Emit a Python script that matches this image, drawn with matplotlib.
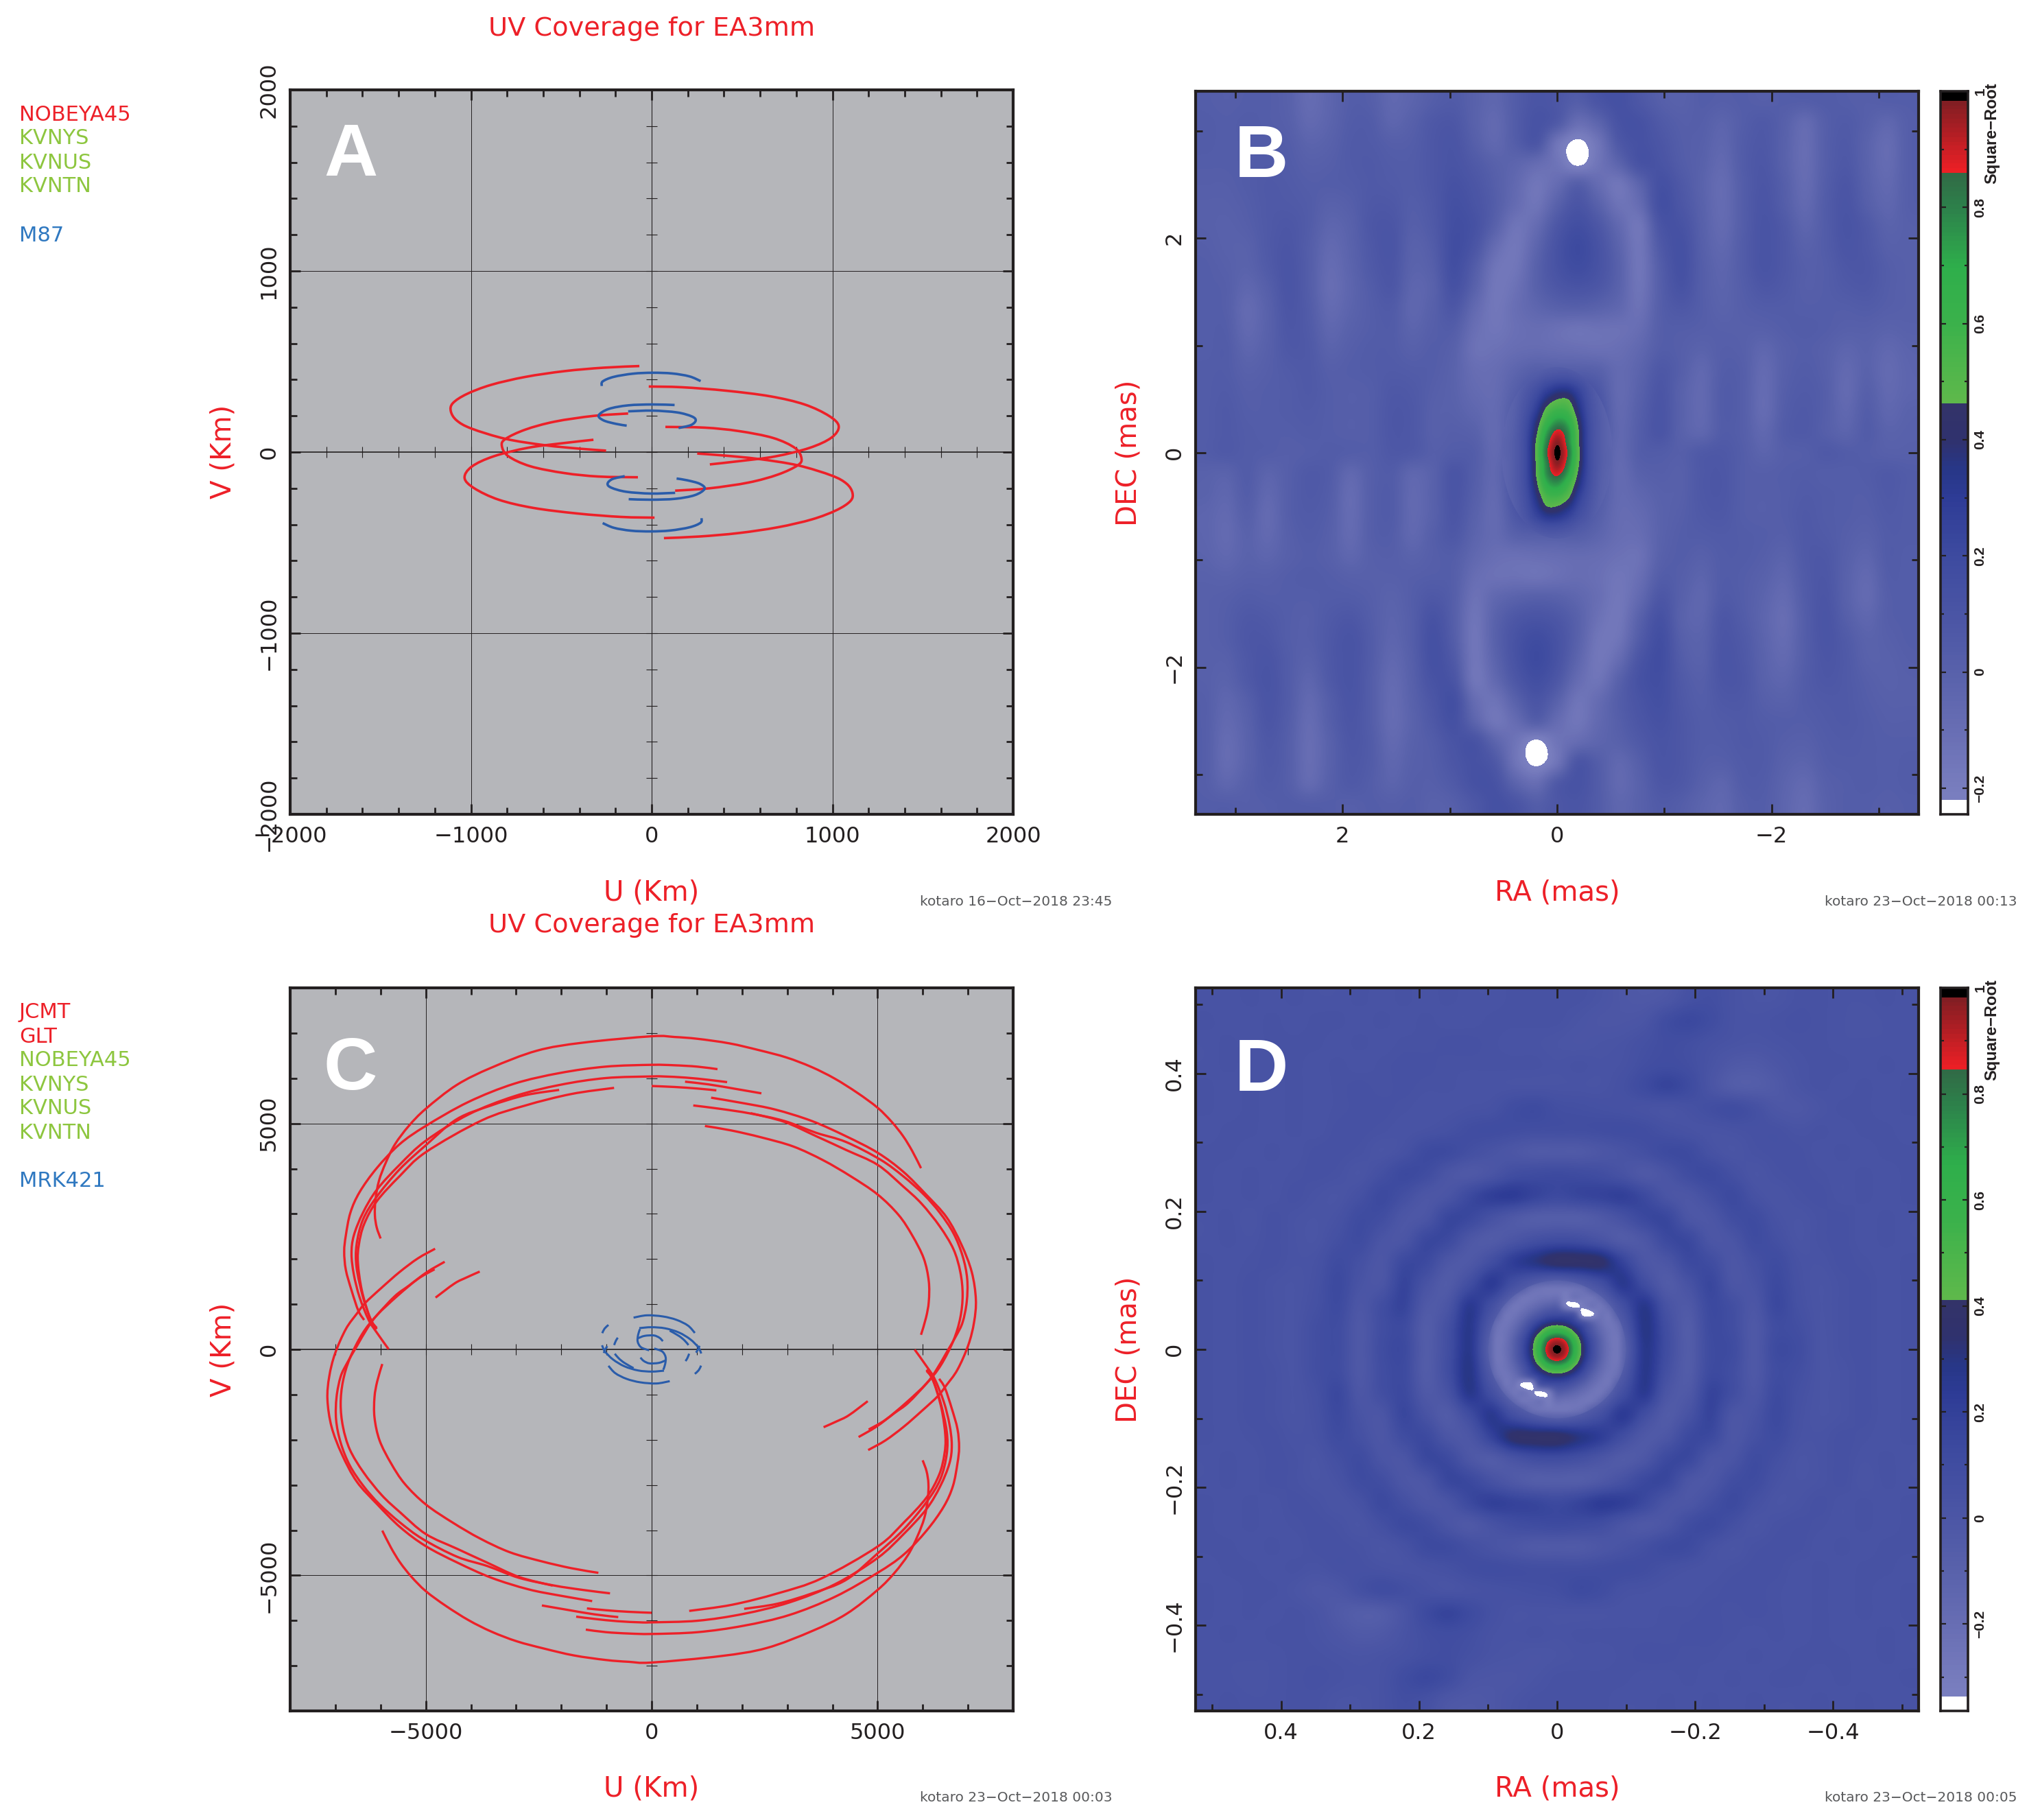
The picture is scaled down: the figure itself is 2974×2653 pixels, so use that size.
import numpy as np
import matplotlib
matplotlib.use("Agg")
import matplotlib.pyplot as plt
from matplotlib.path import Path
from matplotlib.patches import PathPatch, Ellipse
from matplotlib.colors import LinearSegmentedColormap

W, H = 2974, 2653
RED, BLUE, GRAY, LIME, TXTBLUE = "#ED2028", "#2A5CAA", "#B5B6BA", "#8DC63F", "#2F78C0"

# ---- panel A tracks (km), conjugate tracks are the negated values
A_RED = [
 [(-68,475),(-266,466),(-482,447),(-699,415),(-889,371),(-1024,320),(-1100,270),(-1111,225),(-1079,175),(-997,130),(-808,73),(-591,38),(-401,19),(-252,8)],
 [(-16,362),(168,358),(412,339),(656,308),(846,263),(981,200),(1035,143),(995,80),(873,23),(683,-24),(493,-49),(322,-68)],
 [(-130,213),(-320,200),(-537,168),(-699,124),(-808,73),(-829,35),(-794,-22),(-672,-78),(-482,-116),(-293,-135),(-76,-139)],
]
A_BLUE = [
 [(-276,365),(-271,390),(-211,415),(-103,433),(5,438),(114,434),(209,418),(271,392)],
 [(127,260),(5,263),(-130,258),(-238,238),(-293,203),(-266,175),(-198,156),(-138,146)],
 [(-130,225),(5,229),(141,219),(222,197),(244,175),(217,149),(149,133)],
]
# ---- panel C tracks (km)
C_RED = [
 [(5961,4010),(5768,4388),(5566,4717),(5313,5035),(5000,5348),(4554,5676),(4048,5994),(3542,6247),(2985,6459),(2378,6621),(1720,6772),(1012,6873),(506,6913),(0,6929),(-1525,6787),(-2538,6610),(-3551,6232),(-4311,5853),(-5000,5323),(-5375,4944),(-5679,4540),(-5882,4136),(-6034,3732),(-6110,3328),(-6125,2974),(-6084,2697),(-5998,2454)],
 [(1457,6201),(1012,6257),(506,6287),(0,6297),(-1018,6257),(-2031,6116),(-3045,5878),(-4058,5474),(-5000,4944),(-5578,4540),(-6084,4010),(-6464,3479),(-6667,3025),(-6768,2520),(-6804,2166),(-6768,1762),(-6642,1308),(-6490,853),(-6363,651)],
 [(1670,5914),(1265,5964),(759,6014),(253,6040),(0,6040),(-1018,6004),(-2031,5853),(-3045,5600),(-4058,5196),(-5000,4616),(-5578,4085),(-6084,3530),(-6388,3025),(-6591,2520),(-6642,2116),(-6591,1661),(-6464,1156),(-6262,651),(-6084,374),(-5821,5)],
 [(-2047,5742),(-2791,5626),(-3551,5398),(-4311,5095),(-5000,4515),(-5578,3984),(-6084,3378),(-6388,2873),(-6530,2318),(-6530,1813),(-6388,1156),(-6211,651),(-6084,475)],
 [(-831,5787),(-1778,5651),(-2791,5398),(-3754,5070),(-5000,4363),(-5578,3833),(-6084,3277),(-6363,2772),(-6479,2318),(-6500,1914),(-6414,1308),(-6236,702),(-6084,449)],
 [(1316,5570),(2024,5449),(2732,5308),(3542,5055),(4301,4717),(5000,4353),(5566,3934),(6072,3429),(6527,2924),(6856,2318),(7084,1712),(7175,1106),(7135,601),(7008,96),(6768,-449),(6515,-803),(6338,-1030),(5983,-1358),(5578,-1712),(5172,-2015),(4792,-2227)],
 [(921,5398),(1518,5323),(2176,5222),(2935,5055),(3643,4792),(4301,4590),(5060,4200),(5566,3833),(6021,3429),(6376,3025),(6679,2570),(6882,2065),(6983,1560),(6973,1055),(6882,601),(6743,308),(6540,-45),(6287,-475),(6084,-752),(5679,-1182),(5375,-1409),(4970,-1712),(4580,-1939)],
 [(2191,5227),(2935,5035),(3643,4717),(4301,4414),(5000,4085),(5566,3606),(5971,3227),(6376,2722),(6679,2217),(6831,1712),(6882,1207),(6831,702),(6679,197),(6400,-350),(6084,-752),(5628,-1182),(5172,-1560),(4803,-1773)],
 [(1179,4944),(1771,4843),(2429,4691),(3137,4489),(3795,4186),(4402,3833),(5000,3429),(5465,2974),(5768,2520),(6021,2015),(6133,1510),(6133,1055),(6072,702),(5961,323)],
 [(739,5924),(1265,5863),(1872,5762),(2429,5666)],
 [(0,5828),(506,5807),(1012,5772),(1432,5732)],
 [(3805,-1722),(4100,-1590),(4362,-1459),(4782,-1146)],
]
C_BLUE = [
 [(-400,703),(-106,754),(248,729),(552,653),(805,526),(956,364)],
 [(-273,471),(-5,491),(299,466),(602,374),(855,223),(1032,46),(1098,-91)],
 [(-258,450),(-299,324),(-309,172),(-233,46),(-56,-20)],
 [(-299,248),(-157,299),(46,309),(172,258),(248,182)],
 [(400,415),(602,299),(729,197),(815,96)],
 [(-1093,359),(-1042,460),(-956,541)],
 [(-830,96),(-789,197),(-749,258)],
 [(982,-71),(1032,10),(1058,81)],
]
# ---- panel B map, upper half, percent of peak (lower half is the point reflection)
B_MAP = [
 [3,2,3,3,0,-8,-3,3,2,-5,-2,3,5,0,-4,4,10,8,3,10,14,8,2,0,3,2,3,2,3,3,4,3,2,3,3],
 [4,3,4,3,1,-6,-2,4,4,-3,1,7,8,0,-6,4,12,6,-9,-2,12,13,6,2,2,-2,3,6,1,-7,2,5,1,-4,2],
 [4,3,4,4,3,-2,0,5,5,2,3,8,10,2,-5,3,9,-14,-24,-14,7,13,9,3,1,-4,4,7,0,-9,2,6,-1,-8,2],
 [3,3,4,5,4,1,2,5,6,4,4,8,11,6,0,-3,-8,-14,-24,-14,-2,12,11,4,0,-6,4,8,0,-9,2,7,-1,-8,2],
 [2,2,4,6,5,3,3,4,6,5,4,8,13,9,2,-6,-15,-8,2,-8,-15,-2,14,7,-1,-8,3,9,2,-8,3,9,0,-6,2],
 [1,1,3,6,6,4,0,2,7,7,3,7,15,11,3,-8,-14,0,10,0,-13,-8,15,9,0,-8,3,10,3,-6,4,10,2,-4,2],
 [1,0,2,6,8,4,-3,0,8,9,2,6,16,13,0,-14,-8,8,16,8,-6,-15,10,12,1,-7,3,11,6,-3,4,11,6,-1,1],
 [2,0,0,6,9,3,-6,-1,7,10,0,4,17,10,-8,-16,-3,12,20,12,-2,-15,6,14,2,-5,4,11,7,0,4,10,7,1,1],
 [3,1,-1,5,10,3,-8,-2,6,9,-1,2,16,4,-14,-15,0,12,18,12,0,-15,3,14,3,-3,4,11,7,2,3,8,8,3,1],
 [3,2,-4,2,10,3,-9,-3,4,8,-3,0,13,0,-16,-12,0,8,11,8,-1,-14,2,12,3,-2,3,8,6,2,3,6,7,3,1],
 [3,2,-7,0,9,4,-7,-2,3,5,-4,1,8,-6,-16,-10,-4,0,1,-1,-5,-12,2,7,3,-1,2,4,4,3,3,3,4,2,1],
 [3,3,-6,0,8,5,-4,0,3,4,-2,2,3,-10,-15,-11,-9,-11,-13,-12,-12,-9,2,3,2,1,1,1,3,4,3,1,1,-1,0],
 [3,4,-3,1,7,6,-1,2,4,4,1,3,0,-12,-12,-9,-8,-9,-10,-11,-10,-5,3,2,-1,2,1,-4,1,3,1,-3,-1,-5,-2],
 [4,4,0,2,5,6,2,3,4,5,4,3,-1,-9,-9,-3,2,2,2,0,-7,-2,7,2,-5,3,2,-7,1,4,1,-6,-1,-7,-3],
 [4,5,2,3,4,6,3,2,3,7,6,2,-1,-7,-8,2,13,17,18,8,-7,0,9,0,-6,4,2,-8,2,5,2,-7,1,-6,-3],
 [4,6,3,3,4,5,3,2,3,8,7,1,0,-4,-7,6,20,30,30,13,-6,2,10,0,-6,4,2,-8,3,6,2,-5,3,-4,-1],
 [4,6,4,3,3,4,3,2,3,8,7,1,2,0,-7,8,24,40,40,14,-5,3,10,0,-4,4,2,-5,4,6,2,-2,4,-1,0],
]
B_MID = [4,6,4,3,2,3,4,3,3,7,6,2,4,3,-6,8,25,50,25,8,-6,3,4,2,6,7,3,-2,2,3,6,4,3,1,1]
B_CORE = [
 [-6,-4,-2,0,2,3,3,1,-2,-4,-6],
 [-6,-3,2,6,11,14,14,10,4,-2,-6],
 [-6,-2,6,14,24,31,31,22,10,1,-5],
 [-5,0,9,21,37,46,46,30,13,2,-4],
 [-4,1,12,28,50,59,56,36,15,3,-3],
 [-3,2,15,36,60,74,68,42,17,4,-3],
 [-3,3,17,42,72,88,77,46,18,4,-3],
 [-2,4,18,47,80,97,80,47,18,4,-3],
]
B_CORE_MID = [-2,4,18,48,84,100,84,48,18,4,-2]
# ---- panel D map
D_MAP = [
 [3,3,4,3,4,3,3,4,3,4,3,4,3,3,4,4,4,4,2,-1,-2,0,6,8,4,2,2,4,4,3,3,4,3],
 [4,3,3,4,3,4,4,3,4,3,4,3,3,4,4,4,4,2,0,0,2,10,14,10,4,3,4,5,4,3,2,3,3],
 [3,4,3,4,4,4,3,4,3,4,4,5,5,4,3,3,2,1,2,3,6,9,8,5,3,2,3,4,4,3,3,3,3],
 [3,4,3,3,4,3,4,3,4,5,5,4,4,4,4,4,3,4,3,4,8,10,8,3,-2,-3,0,3,4,4,3,4,3],
 [4,3,4,3,4,3,4,5,4,5,4,4,3,3,3,3,3,3,3,6,12,17,12,2,-5,-6,-3,2,4,3,4,3,4],
 [4,3,4,3,4,3,4,5,5,4,3,3,4,5,10,12,8,7,6,5,4,3,5,8,10,6,0,-1,2,4,4,3,4],
 [3,4,4,3,4,3,5,5,4,3,4,6,9,10,9,8,8,8,9,10,9,6,4,3,4,5,5,3,4,3,4,4,3],
 [4,4,3,4,3,5,5,4,2,5,12,12,7,3,0,-3,-3,-3,0,3,7,12,12,5,2,4,5,5,3,4,3,4,4],
 [4,3,4,3,4,5,4,2,7,13,10,1,-2,2,9,11,12,11,9,4,-2,2,10,13,7,2,4,5,4,3,4,3,4],
 [4,3,4,3,5,3,2,6,13,7,0,2,13,21,23,17,13,16,18,20,13,2,0,7,13,5,2,4,5,3,4,3,4],
 [3,4,2,5,3,2,4,11,9,0,1,15,14,5,-2,-6,-6,-6,-2,5,14,15,1,0,9,11,4,2,4,5,3,4,3],
 [3,4,3,5,3,2,7,11,2,1,14,13,0,-4,1,7,10,9,3,-4,0,13,14,1,2,11,7,2,4,5,3,4,3],
 [4,3,4,5,3,4,11,6,0,13,13,0,-2,9,22,30,38,38,36,18,0,1,13,10,0,6,11,4,3,5,4,3,4],
 [4,3,5,3,2,5,13,3,1,17,4,-4,9,24,8,-4,-10,-4,8,26,10,-4,4,15,1,3,13,5,2,4,5,3,4],
 [4,3,5,3,2,6,12,0,9,17,-2,1,25,8,-14,-14,-8,-14,-14,8,27,4,-2,13,8,0,14,6,2,4,5,3,4],
 [4,3,5,3,2,8,10,-2,9,12,-5,7,27,-4,-14,20,50,20,-14,-4,29,9,-5,12,9,-2,10,8,2,4,5,3,4],
]
D_MID = [4,3,5,3,2,8,10,-2,10,13,-5,8,27,-10,-8,40,60,40,-8,-10,27,10,-5,11,11,-2,12,10,2,4,5,3,4]
D_CORE = [
 [24,21,17,11,4,-2,-7,-9,-10,-9,-7,-2,4,11,17,21,24],
 [21,16,8,0,-9,-20,-24,-26,-26,-26,-24,-20,-9,0,8,16,21],
 [17,8,-2,-16,-25,-26,-24,-23,-22,-30,-24,-26,-25,-16,-2,8,17],
 [11,0,-16,-26,-25,-20,-14,-9,-8,-30,-37,-31,-25,-26,-16,0,11],
 [4,-9,-25,-25,-18,-8,2,10,12,10,2,-37,-36,-25,-25,-9,4],
 [-2,-20,-26,-20,-8,8,22,32,36,32,22,8,-8,-20,-26,-20,-2],
 [-7,-24,-24,-14,2,22,42,60,66,60,42,22,2,-14,-24,-24,-7],
 [-9,-26,-23,-9,10,32,60,84,92,84,60,32,10,-9,-23,-26,-9],
]
D_CORE_MID = [-10,-26,-22,-8,12,36,66,92,100,92,66,36,12,-8,-22,-26,-10]

B_EXT, D_EXT = 3.37, 0.524
B_VMIN, D_VMIN = -0.245, -0.364
B_LEGEND = ["NOBEYA45", "KVNYS", "KVNUS", "KVNTN", "M87"]
D_LEGEND = ["JCMT", "GLT", "NOBEYA45", "KVNYS", "KVNUS", "KVNTN", "MRK421"]

def rgb(*c):
    return tuple(v / 255 for v in c)

cmap = LinearSegmentedColormap.from_list("vlbi", [
    (0.0, "white"), (0.015, "white"), (0.0151, rgb(122,127,192)), (0.036, rgb(120,125,190)),
    (0.116, rgb(104,110,180)), (0.197, rgb(88,97,171)), (0.277, rgb(74,85,165)),
    (0.357, rgb(62,75,160)), (0.438, rgb(46,60,150)), (0.478, rgb(40,55,135)),
    (0.518, rgb(48,50,110)), (0.5709, rgb(52,52,105)), (0.571, rgb(95,185,75)),
    (0.679, rgb(60,178,75)), (0.759, rgb(47,175,75)), (0.84, rgb(45,130,75)),
    (0.8929, rgb(50,105,70)), (0.893, rgb(237,32,38)), (0.992, rgb(125,30,35)),
    (0.9921, "black"), (1.0, "black")], N=160)
cmap.set_under("white")
cmap.set_over("black")

fig = plt.figure(figsize=(W / 100, H / 100), dpi=100, facecolor="white")
plt.rcParams["font.family"] = ["DejaVu Sans"]
NARROW = ["Liberation Sans Narrow", "Liberation Sans"]

def make_ax(l, t, r, b):
    return fig.add_axes([l / W, 1 - b / H, (r - l) / W, (b - t) / H])

def T(x, y, s, **kw):
    kw.setdefault("va", "center")
    return fig.text(x / W, 1 - y / H, s, **kw)

def smooth(ax, pts, color, lw):
    """Cubic path through every read point."""
    p = np.asarray(pts, float)
    v, c = [p[0]], [Path.MOVETO]
    for i in range(len(p) - 1):
        a = p[max(i - 1, 0)]
        b = p[min(i + 2, len(p) - 1)]
        v += [p[i] + (p[i + 1] - a) / 6, p[i + 1] - (b - p[i]) / 6, p[i + 1]]
        c += [Path.CURVE4] * 3
    ax.add_patch(PathPatch(Path(v, c), fill=False, edgecolor=color, lw=lw,
                           capstyle="butt", joinstyle="round", zorder=4))

def frame(ax, lw=3.0):
    for s in ax.spines.values():
        s.set_linewidth(lw)
        s.set_color("#231F20")
        s.set_zorder(6)

def ticks(ax, xmaj, xmin, ymaj, ymin, xfmt, yfmt):
    ax.set_xticks(xmaj); ax.set_xticks(xmin, minor=True)
    ax.set_yticks(ymaj); ax.set_yticks(ymin, minor=True)
    ax.set_xticklabels(xfmt, fontsize=23, color="#231F20")
    ax.set_yticklabels(yfmt, fontsize=23, color="#231F20", rotation=90, va="center")
    ax.tick_params(which="major", direction="in", length=11, width=2, top=True, right=True, color="#231F20")
    ax.tick_params(which="minor", direction="in", length=7, width=2, top=True, right=True, color="#231F20")
    ax.tick_params(axis="x", which="major", pad=12)
    ax.tick_params(axis="y", which="major", pad=11)

def uv_panel(box, lim, grid, maj, step, red, blue, labels, blue_lw, red_lw):
    ax = make_ax(*box)
    ax.set_facecolor(GRAY)
    ax.set_xlim(-lim, lim); ax.set_ylim(-lim, lim)
    mins = np.arange(-lim, lim + 1, step)
    ticks(ax, maj, mins, maj, mins, labels, labels)
    for g in grid:
        ax.axvline(g, color="#231F20", lw=0.7, zorder=1)
        ax.axhline(g, color="#231F20", lw=0.7, zorder=1)
    ax.axhline(0, color="#231F20", lw=1.2, zorder=1)
    ax.axvline(0, color="#231F20", lw=0.8, zorder=1)
    ax.plot(mins, np.zeros_like(mins), ls="none", marker="|", ms=12, mew=0.8, color="#231F20", zorder=2)
    ax.plot(np.zeros_like(mins), mins, ls="none", marker="_", ms=12, mew=0.8, color="#231F20", zorder=2)
    for arc in red:
        smooth(ax, arc, RED, red_lw)
        smooth(ax, [(-u, -v) for u, v in arc], RED, red_lw)
    for arc in blue:
        smooth(ax, arc, BLUE, blue_lw)
        smooth(ax, [(-u, -v) for u, v in arc], BLUE, blue_lw)
    frame(ax)
    return ax

def full(top, mid):
    t = np.array(top, float)
    return np.vstack([t, [mid], t[::-1, ::-1]]) / 100

def map_panel(box, ext, vmin, top, mid, core, core_mid, core_x, core_y, maj, mins, labels):
    ax = make_ax(*box)
    kw = dict(cmap=cmap, vmin=vmin, vmax=1.0, interpolation="catrom",
              interpolation_stage="data", aspect="auto", origin="upper", zorder=1)
    ax.imshow(full(top, mid), extent=(ext, -ext, -ext, ext), **kw)
    im = ax.imshow(full(core, core_mid), extent=(core_x, -core_x, -core_y, core_y), **kw)
    ax.set_xlim(ext, -ext); ax.set_ylim(-ext, ext)
    im.set_clip_path(Ellipse((0, 0), 1.88 * core_x, 1.88 * core_y, transform=ax.transData))
    ticks(ax, maj, mins, maj, mins, labels, labels)
    frame(ax)
    return ax

def cbar(box, vmin):
    ax = make_ax(*box)
    vals = np.linspace(1.0, vmin, 600)[:, None]
    ax.imshow(vals, cmap=cmap, vmin=vmin, vmax=1.0, aspect="auto",
              extent=(0, 1, vmin, 1.0), interpolation="nearest", origin="upper")
    ax.set_xlim(0, 1); ax.set_ylim(vmin, 1.0)
    ax.set_xticks([])
    ax.set_yticks([-0.2, 0, 0.2, 0.4, 0.6, 0.8, 1.0])
    ax.set_yticks(np.arange(-0.3 if vmin < -0.3 else -0.1, 1.0, 0.2), minor=True)
    ax.set_yticklabels(["\u22120.2", "0", "0.2", "0.4", "0.6", "0.8", "1"], rotation=90, va="center",
                       fontsize=15, fontweight="bold", color="#231F20", family=NARROW)
    ax.tick_params(which="major", direction="in", length=6, width=1.6, left=True, right=True,
                   labelleft=False, labelright=True, pad=6, color="#231F20")
    ax.tick_params(which="minor", direction="in", length=3.5, width=1.6, left=True, right=True, color="#231F20")
    frame(ax, 2.6)
    return ax

# Panels
uv_panel((423, 131, 1477, 1187), 2000, [-1000, 1000], [-2000, -1000, 0, 1000, 2000], 200,
         A_RED, A_BLUE, ["\u22122000", "\u22121000", "0", "1000", "2000"], 2.6, 2.6)
uv_panel((423, 1440, 1477, 2494), 8000, [-5000, 5000], [-5000, 0, 5000], 1000,
         C_RED, C_BLUE, ["\u22125000", "0", "5000"], 2.2, 2.4)
map_panel((1743, 133, 2797, 1187), B_EXT, B_VMIN, B_MAP, B_MID, B_CORE, B_CORE_MID, 0.55, 0.85,
          [2, 0, -2], [3, 1, -1, -3], ["2", "0", "\u22122"])
map_panel((1743, 1440, 2797, 2494), D_EXT, D_VMIN, D_MAP, D_MID, D_CORE, D_CORE_MID, 0.10625, 0.10625,
          [0.4, 0.2, 0, -0.2, -0.4], [0.5, 0.3, 0.1, -0.1, -0.3, -0.5],
          ["0.4", "0.2", "0", "\u22120.2", "\u22120.4"])
cbar((2829, 133, 2869, 1187), B_VMIN)
cbar((2829, 1440, 2869, 2494), D_VMIN)

# Titles, axis labels, stamps
tit = dict(color=RED, fontsize=27.5, ha="center")
lab = dict(color=RED, fontsize=29, ha="center")
T(950, 42, "UV Coverage for EA3mm", **tit)
T(950, 1349, "UV Coverage for EA3mm", **tit)
T(950, 1301, "U (Km)", **lab)
T(950, 2608, "U (Km)", **lab)
T(2270, 1301, "RA (mas)", **lab)
T(2270, 2608, "RA (mas)", **lab)
T(326, 658, "V (Km)", rotation=90, **lab)
T(326, 1967, "V (Km)", rotation=90, **lab)
T(1645, 660, "DEC (mas)", rotation=90, **lab)
T(1645, 1967, "DEC (mas)", rotation=90, **lab)
st = dict(color="#58595B", fontsize=14.5, ha="right")
T(1621, 1314, "kotaro 16\u2212Oct\u22122018 23:45", **st)
T(2940, 1314, "kotaro 23\u2212Oct\u22122018 00:13", **st)
T(1621, 2621, "kotaro 23\u2212Oct\u22122018 00:03", **st)
T(2940, 2621, "kotaro 23\u2212Oct\u22122018 00:05", **st)
for y in (194, 1501):
    T(2904, y, "Square\u2212Root", rotation=90, fontsize=17, fontweight="bold", color="#231F20",
      ha="center", family=NARROW)

# Station and source lists
leg = dict(fontsize=22, ha="left")
for name, y, c in zip(B_LEGEND, (167, 201, 237, 271, 343), (RED, LIME, LIME, LIME, TXTBLUE)):
    T(28, y, name, color=c, **leg)
for name, y, c in zip(D_LEGEND, (1475, 1511, 1545, 1581, 1615, 1651, 1721), (RED, RED, LIME, LIME, LIME, LIME, TXTBLUE)):
    T(28, y, name, color=c, **leg)

# Panel letters
big = dict(color="white", fontsize=78, fontweight="bold", family="Liberation Sans", va="baseline", ha="left", zorder=10)
T(472, 256, "A", **big)
T(1800, 258, "B", **big)
T(472, 1588, "C", **big)
T(1800, 1590, "D", **big)

fig.savefig("out.png", dpi=100)
